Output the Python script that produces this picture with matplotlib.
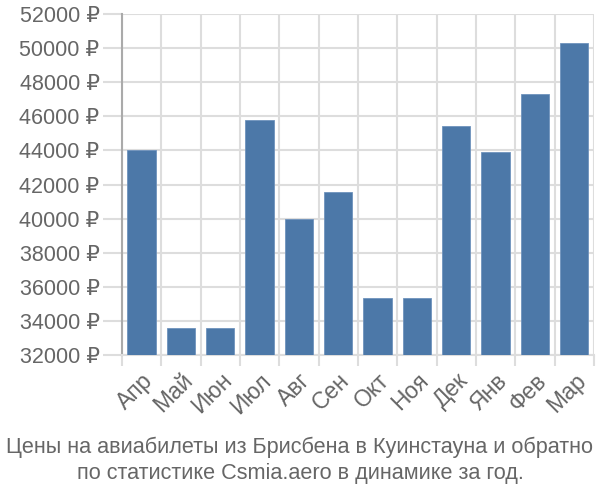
import matplotlib.pyplot as plt
import numpy as np

plt.rcParams['font.family'] = ['Liberation Sans', 'DejaVu Sans']

months = ["Апр", "Май", "Июн", "Июл", "Авг", "Сен", "Окт", "Ноя", "Дек", "Янв", "Фев", "Мар"]
prices = [44050, 33600, 33600, 45800, 39980, 41550, 35350, 35350, 45450, 43880, 47300, 50300]
yticks = list(range(32000, 52001, 2000))

text_color = "#666666"
grid_color = "#dddddd"

fig = plt.figure(figsize=(6, 5), dpi=100)
ax = fig.add_axes([0.203, 0.29, 0.787, 0.682])

x = np.arange(len(months))
ax.bar(x, np.array(prices) - 32000, bottom=32000, width=0.72,
       color="#4c78a8", edgecolor="#6f93bd", linewidth=0.6, zorder=3)

ax.set_xlim(-0.5, len(months) - 0.5)
ax.set_ylim(32000, 52000)

# category boundaries carry the vertical grid and tick marks
ax.set_xticks(np.arange(-0.5, len(months)), minor=True)
ax.set_xticks(x)
ax.set_xticklabels(months, rotation=45, ha="right", va="top",
                   rotation_mode="anchor", fontsize=16.5, color=text_color)
ax.tick_params(axis="x", which="major", length=0, pad=10)
ax.tick_params(axis="x", which="minor", length=8, color=grid_color, width=1.5)
ax.grid(True, axis="x", which="minor", color=grid_color, linewidth=1.5, zorder=0)

ax.set_yticks(yticks)
ax.set_yticklabels([f"{v} ₽" for v in yticks], fontsize=15.5, color=text_color)
ax.tick_params(axis="y", length=14, color=grid_color, width=1.5, pad=2)
ax.grid(True, axis="y", color=grid_color, linewidth=1.5, zorder=0)

for side in ["top", "right"]:
    ax.spines[side].set_visible(False)
ax.spines["bottom"].set_color(grid_color)
ax.spines["bottom"].set_linewidth(1.5)
ax.spines["left"].set_color("#aaaaaa")
ax.spines["left"].set_linewidth(1.5)

fig.text(0.5, 0.079, "Цены на авиабилеты из Брисбена в Куинстауна и обратно\n"
         "по статистике Csmia.aero в динамике за год.",
         ha="center", va="center", fontsize=15.6, color=text_color, linespacing=1.3)

fig.savefig("out.png", dpi=100)
plt.close(fig)
